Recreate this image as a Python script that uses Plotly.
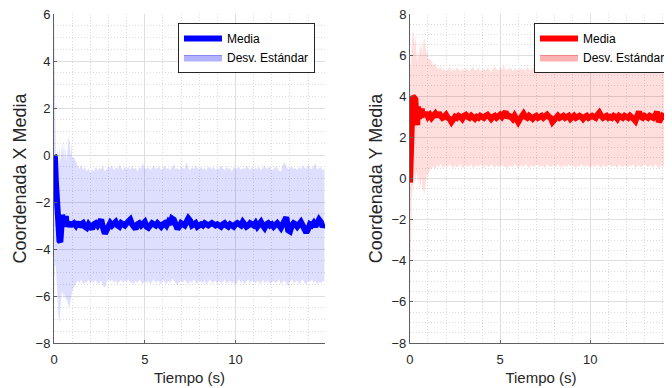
import numpy as np
import plotly.graph_objects as go

# ---------------- datos ----------------
t_inicio = [0.00, 0.05, 0.10, 0.15, 0.20, 0.25, 0.30, 0.35, 0.40, 0.45, 0.50,
            0.55, 0.60, 0.65, 0.70, 0.75, 0.80, 0.85, 0.90, 0.95, 1.00]
t_resto = [round(v, 2) for v in np.arange(1.1, 14.95, 0.1)]
tiempo = t_inicio + t_resto

# Coordenada X
x_media_inicio = [0.0, -0.1, -1.1, -1.9, -2.6, -3.2, -3.65, -3.7, -3.3, -2.55, -2.75,
                  -3.05, -2.8, -2.6, -2.95, -3.0, -2.85, -3.0, -3.05, -2.9, -2.95]
x_media_resto = [
    -2.9, -3.0, -2.85, -3.05, -2.95, -2.9, -3.05, -3.1, -2.95, -3.1,
    -3.15, -2.95, -2.9, -3.0, -2.85, -2.75, -3.1, -3.35, -3.2, -2.95,
    -2.9, -3.0, -2.95, -2.85, -3.0, -3.05, -2.9, -2.95, -3.0, -2.9,
    -2.8, -2.75, -2.95, -3.1, -3.15, -2.95, -2.9, -3.0, -2.95, -2.85,
    -3.05, -3.1, -3.0, -2.9, -2.95, -3.0, -2.9, -2.95, -3.05, -2.95,
    -2.9, -3.0, -2.85, -2.95, -2.7, -2.75, -3.0, -3.15, -3.05, -2.9,
    -2.95, -3.0, -2.85, -2.7, -2.8, -3.0, -2.95, -2.9, -3.05, -2.95,
    -2.95, -3.0, -2.9, -2.95, -3.0, -2.95, -2.9, -2.95, -3.0, -2.95,
    -3.0, -3.05, -2.95, -2.9, -3.0, -3.05, -2.95, -3.0, -3.05, -2.95,
    -2.9, -2.95, -3.0, -2.85, -2.95, -3.05, -3.0, -2.9, -2.95, -3.0,
    -2.9, -3.05, -2.95, -2.85, -3.0, -3.1, -2.95, -2.9, -3.0, -2.95,
    -3.05, -2.95, -2.9, -3.0, -3.1, -2.95, -2.85, -2.65, -3.2, -3.25,
    -3.0, -2.9, -2.95, -3.05, -2.95, -2.85, -3.0, -3.2, -3.3, -3.15,
    -2.95, -3.0, -2.9, -3.05, -2.95, -2.75, -2.85, -3.05, -2.95]
x_sup_inicio = [5.9, 2.1, 0.3, -0.2, 0.35, -0.4, 0.4, -0.3, 0.0, 0.5, -0.1,
                0.55, -0.2, 0.3, -0.3, 0.2, 0.75, 0.7, -0.1, 0.6, -0.1]
x_sup_resto = [
    -0.1, -0.3, -0.45, -0.6, -0.4, -0.65, -0.5, -0.7, -0.55, -0.75,
    -0.6, -0.7, -0.5, -0.65, -0.55, -0.6, -0.45, -0.7, -0.6, -0.5,
    -0.55, -0.45, -0.65, -0.5, -0.6, -0.4, -0.55, -0.65, -0.5, -0.6,
    -0.5, -0.65, -0.45, -0.6, -0.55, -0.7, -0.5, -0.6, -0.35, -0.55,
    -0.6, -0.5, -0.65, -0.55, -0.45, -0.6, -0.55, -0.5, -0.65, -0.55,
    -0.45, -0.6, -0.55, -0.65, -0.5, -0.4, -0.6, -0.55, -0.65, -0.5,
    -0.55, -0.6, -0.3, -0.55, -0.65, -0.5, -0.6, -0.45, -0.55, -0.6,
    -0.5, -0.6, -0.55, -0.65, -0.5, -0.55, -0.6, -0.5, -0.65, -0.55,
    -0.6, -0.45, -0.55, -0.65, -0.5, -0.6, -0.55, -0.7, -0.5, -0.6,
    -0.55, -0.5, -0.65, -0.55, -0.6, -0.45, -0.55, -0.65, -0.5, -0.6,
    -0.55, -0.6, -0.5, -0.65, -0.55, -0.45, -0.6, -0.55, -0.5, -0.65,
    -0.6, -0.5, -0.55, -0.65, -0.7, -0.45, -0.3, -0.5, -0.6, -0.55,
    -0.5, -0.6, -0.55, -0.65, -0.5, -0.6, -0.45, -0.55, -0.6, -0.4,
    -0.55, -0.6, -0.5, -0.35, -0.6, -0.55, -0.5, -0.65, -0.55]
x_inf_inicio = [-5.9, -4.7, -4.7, -5.6, -6.3, -6.9, -7.15, -6.5, -6.0, -5.8, -5.9,
                -6.1, -5.9, -6.2, -6.1, -6.3, -6.45, -6.5, -6.3, -6.0, -5.8]
x_inf_resto = [
    -5.6, -5.5, -5.35, -5.45, -5.3, -5.5, -5.4, -5.45, -5.3, -5.5,
    -5.35, -5.45, -5.3, -5.5, -5.4, -5.35, -5.55, -5.65, -5.4, -5.3,
    -5.4, -5.3, -5.45, -5.35, -5.5, -5.4, -5.3, -5.45, -5.35, -5.4,
    -5.3, -5.45, -5.4, -5.5, -5.35, -5.45, -5.3, -5.4, -5.5, -5.35,
    -5.45, -5.35, -5.5, -5.4, -5.3, -5.45, -5.35, -5.4, -5.5, -5.3,
    -5.4, -5.5, -5.35, -5.45, -5.25, -5.35, -5.45, -5.55, -5.4, -5.35,
    -5.45, -5.3, -5.4, -5.5, -5.35, -5.45, -5.3, -5.4, -5.5, -5.35,
    -5.4, -5.45, -5.35, -5.5, -5.4, -5.3, -5.45, -5.4, -5.35, -5.5,
    -5.35, -5.45, -5.4, -5.3, -5.5, -5.4, -5.35, -5.45, -5.4, -5.5,
    -5.4, -5.3, -5.45, -5.35, -5.5, -5.4, -5.3, -5.45, -5.35, -5.4,
    -5.45, -5.35, -5.4, -5.5, -5.3, -5.45, -5.4, -5.35, -5.5, -5.4,
    -5.35, -5.45, -5.4, -5.3, -5.5, -5.4, -5.35, -5.45, -5.6, -5.4,
    -5.3, -5.45, -5.4, -5.35, -5.5, -5.4, -5.3, -5.45, -5.5, -5.35,
    -5.4, -5.3, -5.45, -5.35, -5.5, -5.4, -5.45, -5.35, -5.4]

# Coordenada Y
y_media_inicio = [-0.2, 0.8, 3.3, 4.0, 3.95, 3.9, 3.85, 2.9, 2.6, 3.5, 2.9,
                  3.3, 2.95, 3.4, 3.05, 3.2, 3.0, 3.25, 3.0, 3.1, 3.0]
y_media_resto = [
    3.1, 2.95, 3.05, 3.15, 3.0, 3.2, 3.05, 2.95, 3.0, 3.1,
    2.95, 2.9, 2.75, 2.85, 3.0, 2.95, 3.05, 3.0, 2.9, 3.05,
    3.1, 3.0, 2.95, 3.05, 3.0, 2.9, 3.0, 2.95, 3.05, 3.0,
    2.95, 3.05, 3.1, 3.0, 2.9, 3.0, 3.05, 2.95, 3.0, 3.1,
    3.0, 3.2, 3.25, 2.95, 3.05, 3.0, 2.9, 3.05, 2.95, 2.75,
    2.9, 3.05, 3.15, 3.0, 2.95, 3.05, 3.0, 2.9, 3.0, 3.05,
    2.95, 3.0, 3.05, 2.95, 3.0, 3.1, 3.0, 2.95, 2.75, 2.85,
    3.0, 3.05, 2.95, 3.0, 3.05, 2.95, 3.0, 3.05, 2.9, 3.0,
    3.05, 2.95, 3.0, 3.05, 3.0, 2.9, 3.0, 3.05, 2.95, 3.0,
    3.05, 3.0, 2.95, 3.1, 3.2, 3.05, 2.95, 3.0, 3.05, 2.95,
    3.0, 2.95, 3.05, 3.0, 2.9, 3.05, 3.0, 2.95, 3.05, 3.0,
    2.95, 3.05, 3.0, 2.9, 2.8, 3.05, 3.25, 3.0, 2.95, 3.05,
    3.0, 2.95, 3.05, 3.0, 2.95, 3.05, 3.25, 2.75, 2.9, 3.05,
    3.0, 2.95, 3.05, 3.0, 3.1, 2.95, 3.0, 3.05, 3.0]
y_sup_inicio = [5.6, 5.5, 6.5, 7.2, 7.1, 6.5, 7.0, 6.0, 5.6, 6.3, 5.8,
                6.6, 6.2, 6.6, 6.0, 6.7, 6.85, 6.6, 6.0, 6.3, 5.9]
y_sup_resto = [
    5.8, 5.7, 5.5, 5.6, 5.4, 5.3, 5.45, 5.25, 5.35, 5.2,
    5.3, 5.45, 5.2, 5.35, 5.25, 5.4, 5.3, 5.2, 5.35, 5.25,
    5.4, 5.3, 5.2, 5.35, 5.45, 5.25, 5.3, 5.4, 5.2, 5.3,
    5.35, 5.25, 5.4, 5.3, 5.2, 5.35, 5.45, 5.3, 5.25, 5.4,
    5.3, 5.5, 5.25, 5.35, 5.3, 5.4, 5.2, 5.35, 5.3, 5.25,
    5.4, 5.3, 5.35, 5.2, 5.45, 5.3, 5.25, 5.4, 5.3, 5.35,
    5.25, 5.4, 5.3, 5.55, 5.35, 5.2, 5.3, 5.4, 5.25, 5.35,
    5.3, 5.4, 5.25, 5.35, 5.3, 5.45, 5.2, 5.35, 5.3, 5.4,
    5.25, 5.35, 5.4, 5.3, 5.2, 5.35, 5.3, 5.45, 5.25, 5.3,
    5.4, 5.3, 5.35, 5.25, 5.45, 5.3, 5.2, 5.35, 5.3, 5.4,
    5.3, 5.25, 5.4, 5.35, 5.3, 5.2, 5.45, 5.3, 5.35, 5.25,
    5.35, 5.3, 5.4, 5.25, 5.3, 5.5, 5.35, 5.2, 5.3, 5.4,
    5.3, 5.35, 5.25, 5.4, 5.3, 5.35, 5.2, 5.45, 5.3, 5.35,
    5.25, 5.4, 5.3, 5.35, 5.3, 5.2, 5.4, 5.3, 5.35]
y_inf_inicio = [-6.0, -2.5, -1.0, -0.4, -0.3, 0.3, -0.2, 0.3, 0.2, -0.4, 0.2,
                -0.5, -0.3, 0.1, -0.7, -0.5, -0.8, -0.4, 0.0, 0.3, 0.1]
y_inf_resto = [
    0.4, 0.5, 0.6, 0.45, 0.65, 0.55, 0.7, 0.5, 0.6, 0.65,
    0.55, 0.7, 0.6, 0.5, 0.65, 0.55, 0.6, 0.7, 0.5, 0.6,
    0.65, 0.55, 0.6, 0.7, 0.5, 0.6, 0.65, 0.55, 0.7, 0.6,
    0.5, 0.65, 0.6, 0.55, 0.7, 0.6, 0.5, 0.65, 0.55, 0.6,
    0.7, 0.55, 0.6, 0.45, 0.65, 0.6, 0.55, 0.7, 0.6, 0.5,
    0.6, 0.65, 0.55, 0.7, 0.6, 0.5, 0.65, 0.6, 0.55, 0.7,
    0.6, 0.55, 0.65, 0.6, 0.5, 0.7, 0.6, 0.55, 0.65, 0.6,
    0.55, 0.7, 0.6, 0.5, 0.65, 0.6, 0.55, 0.7, 0.6, 0.65,
    0.6, 0.5, 0.65, 0.55, 0.7, 0.6, 0.55, 0.65, 0.6, 0.5,
    0.65, 0.6, 0.55, 0.7, 0.6, 0.5, 0.65, 0.6, 0.55, 0.7,
    0.6, 0.55, 0.65, 0.6, 0.5, 0.7, 0.6, 0.55, 0.65, 0.6,
    0.55, 0.65, 0.6, 0.7, 0.5, 0.6, 0.65, 0.55, 0.6, 0.7,
    0.6, 0.55, 0.65, 0.6, 0.5, 0.7, 0.6, 0.45, 0.65, 0.6,
    0.55, 0.65, 0.6, 0.7, 0.5, 0.6, 0.55, 0.65, 0.6]

x_media = x_media_inicio + x_media_resto
x_sup = x_sup_inicio + x_sup_resto
x_inf = x_inf_inicio + x_inf_resto
y_media = y_media_inicio + y_media_resto
y_sup = y_sup_inicio + y_sup_resto
y_inf = y_inf_inicio + y_inf_resto

# ---------------- figura ----------------
FONT = "Liberation Sans, Arial, Helvetica, sans-serif"
TXT = "#262626"

fig = go.Figure()

paneles = [
    ("x", "y", x_media, x_sup, x_inf, "#0000ff", "rgba(0,0,255,0.13)",
     "rgba(0,0,255,0.30)", "rgba(70,70,230,0.55)", "legend"),
    ("x2", "y2", y_media, y_sup, y_inf, "#ff0000", "rgba(255,0,0,0.13)",
     "rgba(255,0,0,0.30)", "rgba(230,70,70,0.55)", "legend2"),
]

for xa, ya, media, sup, inf, col, banda, banda_ley, borde_ley, ley in paneles:
    fig.add_trace(go.Scatter(x=tiempo, y=inf, xaxis=xa, yaxis=ya, mode="lines",
                             line=dict(width=0, color=banda), showlegend=False,
                             hoverinfo="skip"))
    fig.add_trace(go.Scatter(x=tiempo, y=sup, xaxis=xa, yaxis=ya, mode="lines",
                             line=dict(width=0, color=banda), fill="tonexty",
                             fillcolor=banda, showlegend=False, hoverinfo="skip"))
    fig.add_trace(go.Scatter(x=tiempo, y=media, xaxis=xa, yaxis=ya, mode="lines",
                             line=dict(width=6, color=col), name="Media",
                             legend=ley))
    fig.add_trace(go.Scatter(x=[None], y=[None], xaxis=xa, yaxis=ya, mode="lines",
                             fill="toself", fillcolor=banda_ley,
                             line=dict(width=1, color=borde_ley),
                             name="Desv. Estándar", legend=ley))

eje_comun = dict(
    showline=True, linecolor="#606060", linewidth=1, mirror=False,
    ticks="inside", ticklen=3, tickcolor="#606060",
    showgrid=True, gridcolor="#dedede", gridwidth=1, zeroline=False,
    tickfont=dict(family=FONT, size=13, color=TXT), automargin=False,
    ticklabeloverflow="allow",
)
minor_x = dict(dtick=1, showgrid=True, gridcolor="#dcdcdc", griddash="1px,2px", ticks="")
minor_y = dict(dtick=0.5, showgrid=True, gridcolor="#dcdcdc", griddash="1px,2px", ticks="")

titulo_x = dict(text="Tiempo (s)", font=dict(family=FONT, size=15, color=TXT), standoff=6)

leyenda = dict(bgcolor="white", bordercolor="#262626", borderwidth=1,
               font=dict(family=FONT, size=12, color="#000000"),
               xanchor="left", yanchor="top", itemwidth=38, tracegroupgap=0,
               traceorder="normal")

# La página añade 8 px de margen al cuerpo: la figura se reduce en 8 px.
fig.update_layout(
    width=664, height=380,
    margin=dict(l=46, r=0, t=6, b=45, autoexpand=False),
    paper_bgcolor="white", plot_bgcolor="white",
    xaxis=dict(domain=[0, 0.4385], range=[0, 14.93], tickvals=[0, 5, 10],
               minor=minor_x, title=titulo_x, anchor="y", ticklabelstandoff=4,
               **eje_comun),
    yaxis=dict(domain=[0, 1], range=[-8, 6], dtick=2, minor=minor_y, anchor="x",
               title=dict(text="Coordenada X Media",
                          font=dict(family=FONT, size=18, color=TXT), standoff=4),
               **eje_comun),
    xaxis2=dict(domain=[0.576, 1], range=[0, 14.53], tickvals=[0, 5, 10],
                minor=minor_x, title=titulo_x, anchor="y2", ticklabelstandoff=4,
                **eje_comun),
    yaxis2=dict(domain=[0, 1], range=[-8, 8], dtick=2, minor=minor_y, anchor="x2",
                title=dict(text="Coordenada Y Media",
                           font=dict(family=FONT, size=18, color=TXT), standoff=4),
                **eje_comun),
    legend=dict(x=0.2006, y=0.9726, **leyenda),
    legend2=dict(x=0.7767, y=0.9726, **leyenda),
    showlegend=True,
)

fig.write_html("out.html")
